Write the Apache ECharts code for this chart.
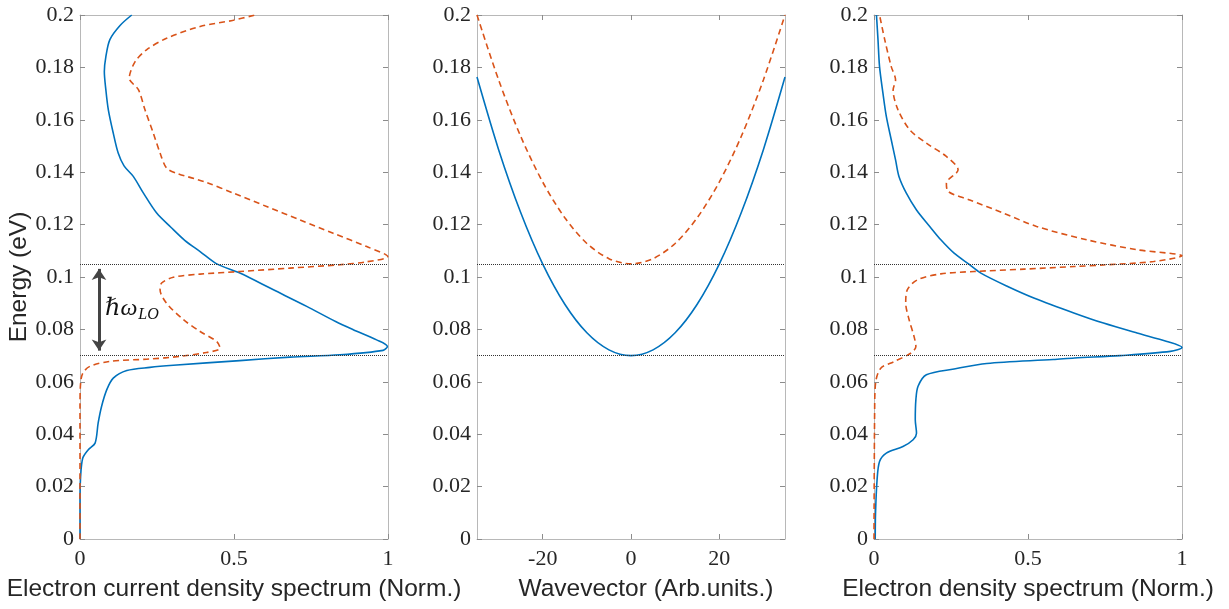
<!DOCTYPE html>
<html><head><meta charset="utf-8">
<script src="https://cdn.jsdelivr.net/npm/echarts@6/dist/echarts.min.js"></script>
<style>html,body{margin:0;padding:0;background:#fff}#c{width:1229px;height:609px}</style>
</head><body><div id="c"></div>
<script>
// ---- Data (x value, energy eV) ----
const currentBlue = [
 [0,0],[0,0.016],[0.002,0.0239],[0.009,0.0309],[0.027,0.0341],[0.049,0.0366],[0.059,0.0443],
 [0.070,0.0506],[0.087,0.057],[0.108,0.0614],[0.152,0.0643],[0.227,0.0655],[0.303,0.0663],
 [0.519,0.0681],[0.682,0.0694],[0.844,0.0703],[0.984,0.0720],[0.998,0.0735],[0.963,0.076],
 [0.887,0.0799],[0.830,0.0830],[0.736,0.0888],[0.628,0.0951],[0.519,0.1015],[0.444,0.105],
 [0.390,0.1097],[0.340,0.1140],[0.295,0.1190],[0.249,0.1244],[0.206,0.132],[0.173,0.1384],
 [0.143,0.1424],[0.124,0.1473],[0.108,0.1549],[0.092,0.1638],[0.084,0.1714],[0.079,0.1784],
 [0.084,0.1841],[0.097,0.1906],[0.130,0.196],[0.168,0.200]
];
const currentOrange = [
 [0,0],[0,0.0506],[0.002,0.0595],[0.009,0.0633],[0.032,0.0659],[0.097,0.0678],[0.227,0.0687],
 [0.325,0.0697],[0.411,0.0712],[0.455,0.0728],[0.444,0.0754],[0.390,0.0792],[0.336,0.0837],
 [0.281,0.0900],[0.260,0.0951],[0.265,0.0977],[0.303,0.0999],[0.390,0.1011],[0.519,0.1021],
 [0.682,0.1034],[0.844,0.1047],[0.931,0.1058],[0.999,0.1078],[0.931,0.1116],[0.822,0.1167],
 [0.714,0.1218],[0.606,0.1269],[0.498,0.132],[0.411,0.1361],[0.314,0.1396],[0.281,0.1416],
 [0.260,0.1473],[0.238,0.1549],[0.211,0.1638],[0.190,0.1714],[0.160,0.1759],[0.179,0.1822],
 [0.216,0.1867],[0.281,0.1911],[0.390,0.1956],[0.498,0.198],[0.568,0.200]
];
const wavevector = [-34.9,-30,-25,-20,-15,-10,-5,0,5,10,15,20,25,30,34.9];
const bandBlue   = [0.1763,0.1486,0.1246,0.1049,0.0896,0.0787,0.0722,0.070,0.0722,0.0787,0.0896,0.1049,0.1246,0.1486,0.1763];
const bandOrange = [0.200,0.1752,0.1537,0.1362,0.1226,0.1128,0.1070,0.105,0.1070,0.1128,0.1226,0.1362,0.1537,0.1752,0.200];
const densityBlue = [
 [0.004,0],[0.005,0.0099],[0.010,0.0226],[0.018,0.0296],[0.040,0.0328],[0.094,0.0353],
 [0.127,0.0379],[0.138,0.0404],[0.134,0.0455],[0.136,0.0532],[0.143,0.0583],[0.170,0.0627],
 [0.260,0.0649],[0.366,0.0670],[0.582,0.0685],[0.651,0.0691],[0.799,0.0700],[0.962,0.0716],
 [1.0,0.0731],[0.951,0.0754],[0.854,0.0786],[0.745,0.0824],[0.651,0.0862],[0.521,0.0919],
 [0.434,0.0964],[0.347,0.1015],[0.307,0.105],[0.260,0.1091],[0.217,0.1142],[0.181,0.1193],
 [0.138,0.1256],[0.105,0.132],[0.081,0.1384],[0.070,0.1447],[0.056,0.1524],[0.040,0.1613],
 [0.029,0.1702],[0.018,0.1803],[0.013,0.1905],[0.008,0.200]
];
const densityOrange = [
 [0,0],[0.002,0.048],[0.005,0.0595],[0.022,0.0652],[0.065,0.0677],[0.119,0.0709],[0.136,0.0735],
 [0.130,0.0773],[0.114,0.0837],[0.103,0.0900],[0.108,0.0951],[0.141,0.0989],[0.217,0.1012],
 [0.325,0.1021],[0.488,0.103],[0.651,0.104],[0.745,0.1046],[0.908,0.1059],[1.0,0.1081],
 [0.854,0.1104],[0.691,0.1142],[0.528,0.1193],[0.420,0.1244],[0.311,0.1294],[0.241,0.1326],
 [0.235,0.1358],[0.273,0.1409],[0.235,0.146],[0.170,0.1511],[0.116,0.1562],[0.078,0.1638],
 [0.062,0.1714],[0.070,0.1752],[0.056,0.1803],[0.035,0.1905],[0.018,0.200]
];
const levels = [0.105, 0.07];          // dotted reference energies
const arrowEnds = [0.1031, 0.0719];    // hbar omega_LO arrow (inset for heads)
const energyTicks = {min:0, max:0.2, interval:0.02};

// ---- styles ----
const BLUE = '#0072BD', ORANGE = '#D95319';
const serif = 'Liberation Serif, DejaVu Serif, serif';
const sans = 'Liberation Sans, Arial, sans-serif';
const boxColor = '#b8b8b8', tickColor = '#8c8c8c', txt = '#262626';

const grids = [
 {left:80, top:15, width:308, height:524},
 {left:477, top:15, width:308, height:524},
 {left:874, top:15, width:308, height:524}
];

function mkX(gi, pos, cfg) {
  const a = {
    type:'value', gridIndex:gi, position:pos, min:cfg.min, max:cfg.max,
    axisLine:{show:true, onZero:false, lineStyle:{color:boxColor, width:1}},
    axisTick:{show:true, inside:true, length:5, lineStyle:{color:tickColor}},
    axisLabel:{show:pos==='bottom', fontFamily:serif, fontSize:22, color:txt, margin:9},
    splitLine:{show:false}
  };
  if (cfg.interval) a.interval = cfg.interval;
  if (cfg.custom) { a.axisTick.customValues = cfg.custom; a.axisLabel.customValues = cfg.custom; }
  if (pos==='bottom') {
    a.name = cfg.name; a.nameLocation='middle'; a.nameGap=38;
    a.nameTextStyle={fontFamily:sans, fontSize:24.5, color:txt, padding:cfg.pad||0};
  }
  return a;
}
function mkY(gi, pos, withName) {
  const a = {
    type:'value', gridIndex:gi, position:pos, min:energyTicks.min, max:energyTicks.max, interval:energyTicks.interval,
    axisLine:{show:true, onZero:false, lineStyle:{color:boxColor, width:1}},
    axisTick:{show:true, inside:true, length:5, lineStyle:{color:tickColor}},
    axisLabel:{show:pos==='left', fontFamily:serif, fontSize:22, color:txt, margin:6},
    splitLine:{show:false}
  };
  if (withName) {
    a.name='Energy (eV)'; a.nameLocation='middle'; a.nameGap=48;
    a.nameTextStyle={fontFamily:sans, fontSize:24.5, color:txt};
  }
  return a;
}

const xCfg = [
  {min:0, max:1, interval:0.5, name:'Electron current density spectrum (Norm.)'},
  {min:wavevector[0], max:wavevector[wavevector.length-1], custom:[-20,0,20], name:'Wavevector (Arb.units.)', pad:[0,0,0,30]},
  {min:0, max:1, interval:0.5, name:'Electron density spectrum (Norm.)'}
];
const xAxis = [], yAxis = [];
for (let g=0; g<3; g++) {
  xAxis.push(mkX(g,'bottom',xCfg[g]));
  xAxis.push(mkX(g,'top',xCfg[g]));
  yAxis.push(mkY(g,'left',g===0));
  yAxis.push(mkY(g,'right',false));
}

function levelLines() {
  return {
    silent:true, symbol:'none', precision:6, label:{show:false},
    lineStyle:{type:'dotted', color:'#333', width:1, opacity:1},
    emphasis:{disabled:true},
    data: levels.map(v=>({yAxis:v}))
  };
}

function line(gi, data, color, dashed, extra) {
  return Object.assign({
    type:'line', xAxisIndex:gi*2, yAxisIndex:gi*2, data:data, showSymbol:false, symbol:'none',
    smooth:0.3, animation:false, silent:true,
    lineStyle:{color:color, width:1.6, type: dashed ? [6,4] : 'solid'},
    itemStyle:{color:color}
  }, extra||{});
}

const series = [
  line(0, currentBlue, BLUE, false),
  line(0, currentOrange, ORANGE, true, {
    markLine: levelLines(),
    markPoint: {
      silent:true, symbol:'circle', symbolSize:0,
      data:[{coord:[0.081, 0.0879]}],
      label:{show:true, position:'right', distance:0,
        formatter:'{a|ℏω}{b|LO}',
        rich:{
          a:{fontFamily:serif, fontStyle:'italic', fontSize:24, color:'#111', verticalAlign:'middle'},
          b:{fontFamily:serif, fontStyle:'italic', fontSize:16, color:'#111', padding:[12,0,0,1], verticalAlign:'middle'}
        }}
    }
  }),
  {
    type:'line', xAxisIndex:0, yAxisIndex:0, data:[], silent:true,
    markLine:{
      silent:true, symbol:['arrow','arrow'], symbolSize:[11,11], precision:6, label:{show:false},
      lineStyle:{type:'solid', color:'#444', width:3, opacity:1},
      emphasis:{disabled:true},
      data:[[{coord:[0.0617, arrowEnds[0]]},{coord:[0.0617, arrowEnds[1]]}]]
    }
  },
  line(1, wavevector.map((k,i)=>[k,bandBlue[i]]), BLUE, false),
  line(1, wavevector.map((k,i)=>[k,bandOrange[i]]), ORANGE, true, {markLine: levelLines()}),
  line(2, densityBlue, BLUE, false),
  line(2, densityOrange, ORANGE, true, {markLine: levelLines()})
];

const chart = echarts.init(document.getElementById('c'), null, {renderer:'canvas'});
chart.setOption({
  animation:false,
  backgroundColor:'#fff',
  grid: grids,
  xAxis: xAxis,
  yAxis: yAxis,
  series: series
});
</script></body></html>
